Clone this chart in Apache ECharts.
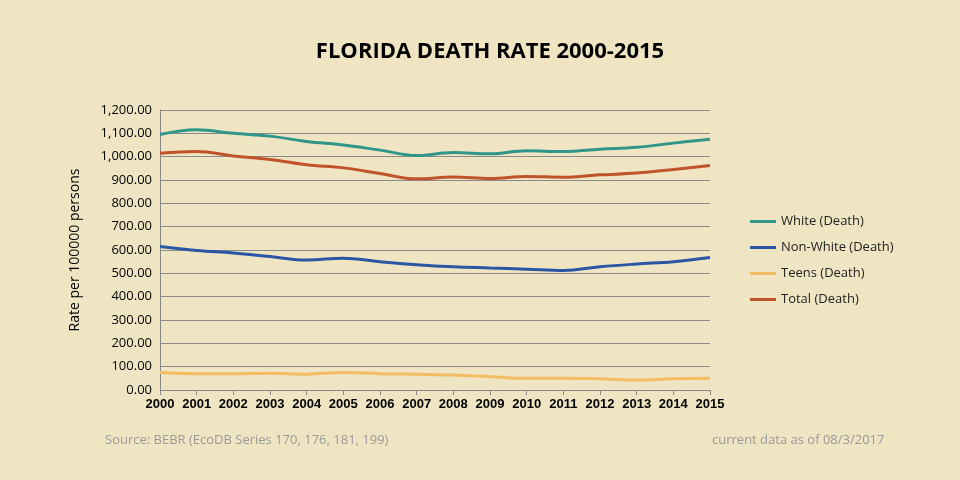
<!DOCTYPE html><html><head><meta charset="utf-8"><script src="https://cdn.jsdelivr.net/npm/echarts@6/dist/echarts.min.js"></script>
<style>html,body{margin:0;background:#efe5c3}#c{width:960px;height:480px}</style></head><body><div id="c"></div><script>
const years=['2000','2001','2002','2003','2004','2005','2006','2007','2008','2009','2010','2011','2012','2013','2014','2015'];
const white=[1095,1115,1100,1088,1065,1050,1028,1005,1018,1012,1025,1022,1032,1040,1058,1075];
const nonWhite=[615,598,587,572,557,565,550,537,528,523,518,512,528,540,550,568];
const teens=[75,70,70,72,68,75,70,68,64,57,50,50,48,43,48,50];
const total=[1015,1022,1003,988,965,952,928,905,913,906,915,912,922,930,945,962];
const fmt=v=>v.toLocaleString('en-US',{minimumFractionDigits:2,maximumFractionDigits:2});
const mk=(n,d,c)=>({name:n,type:'line',data:d,smooth:0.4,symbol:'none',lineStyle:{width:3,color:c},itemStyle:{color:c}});
const ch=echarts.init(document.getElementById('c'));
ch.setOption({backgroundColor:'#efe5c3',textStyle:{fontFamily:'Open Sans'},
title:{text:'FLORIDA DEATH RATE 2000-2015',left:485,top:36,textAlign:'center',textStyle:{fontSize:22,fontWeight:'bold',color:'#000',fontFamily:'Open Sans'}},
grid:{left:160,right:250,top:110,bottom:90},
legend:{orient:'vertical',left:745,top:210,itemWidth:26,itemHeight:3,itemGap:13,icon:'rect',textStyle:{fontSize:13,color:'#222'}},
xAxis:{type:'category',data:years,boundaryGap:false,axisLine:{lineStyle:{color:'#888'}},axisTick:{show:true,interval:0,lineStyle:{color:'#888'}},axisLabel:{interval:0,color:'#000',fontSize:13,fontWeight:'bold',fontFamily:'Liberation Sans Narrow, Arial Narrow, Liberation Sans'}},
yAxis:{type:'value',min:0,max:1200,interval:100,name:'Rate per 100000 persons',nameLocation:'middle',nameGap:78,nameTextStyle:{fontSize:14,color:'#000'},
axisLine:{show:true,lineStyle:{color:'#888'}},axisLabel:{formatter:fmt,color:'#000',fontSize:13},splitLine:{lineStyle:{color:'#8a8a8a'}}},
graphic:[{type:'text',left:105,top:434,style:{text:'Source: BEBR (EcoDB Series 170, 176, 181, 199)',fill:'#999',font:'13px Open Sans'}},
{type:'text',left:712,top:434,style:{text:'current data as of 08/3/2017',fill:'#999',font:'13px Open Sans'}}],
series:[mk('White (Death)',white,'#31968a'),mk('Non-White (Death)',nonWhite,'#2a56a6'),mk('Teens (Death)',teens,'#f2bd62'),mk('Total (Death)',total,'#c0532b')]});
</script></body></html>
